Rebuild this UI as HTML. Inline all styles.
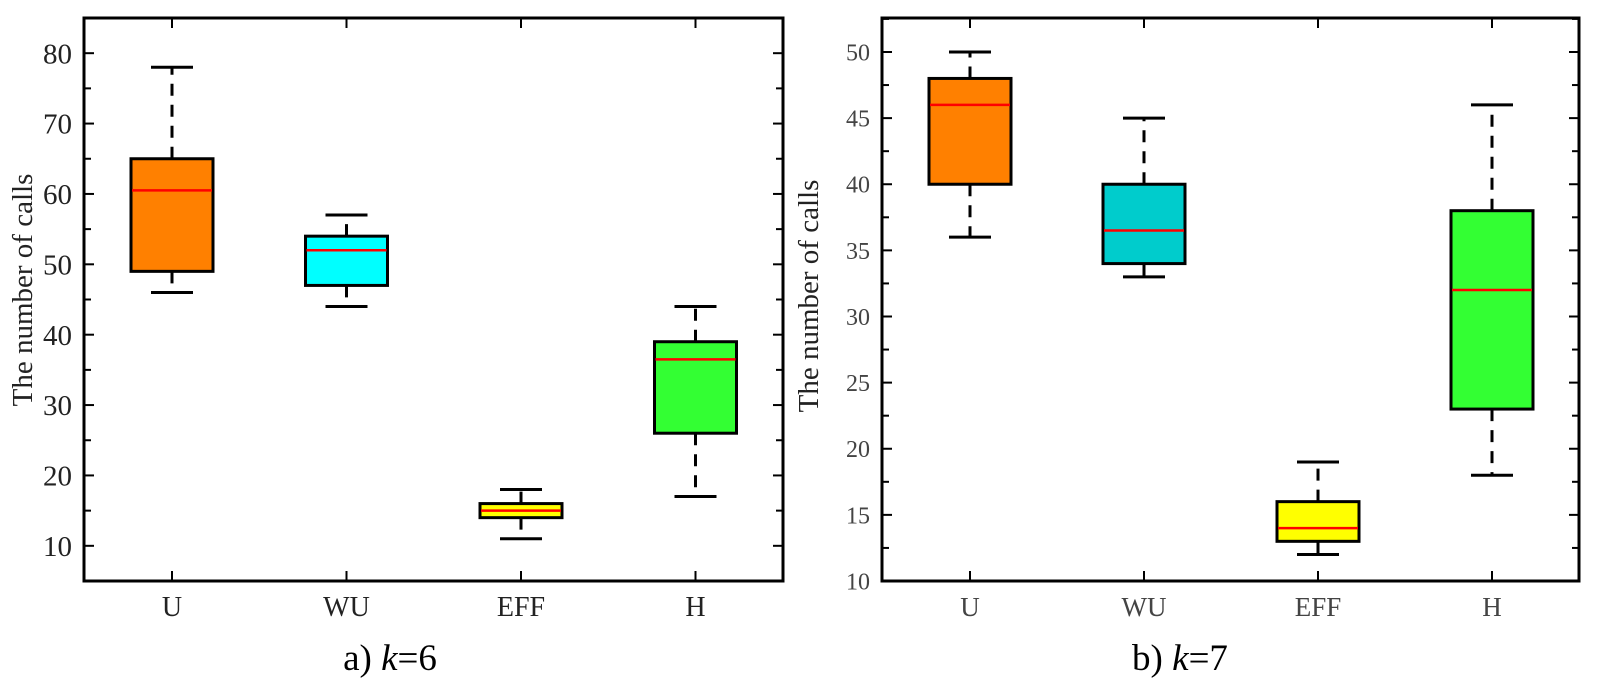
<!DOCTYPE html>
<html><head><meta charset="utf-8"><style>
html,body{margin:0;padding:0;background:#fff;}
svg{display:block;}
</style></head><body>
<svg id="fig" width="1600" height="687" viewBox="0 0 1600 687" xmlns="http://www.w3.org/2000/svg"></svg>
<script>
const categories = ["U","WU","EFF","H"];
// panel a (k=6)
const aWhiskLo = [46,44,11,17];
const aQ1 = [49,47,14,26];
const aMed = [60.5,52,15,36.5];
const aQ3 = [65,54,16,39];
const aWhiskHi = [78,57,18,44];
const aTicks = [10,20,30,40,50,60,70,80];
// panel b (k=7)
const bWhiskLo = [36,33,12,18];
const bQ1 = [40,34,13,23];
const bMed = [46,36.5,14,32];
const bQ3 = [48,40,16,38];
const bWhiskHi = [50,45,19,46];
const bTicks = [10,15,20,25,30,35,40,45,50];

const NS="http://www.w3.org/2000/svg";
const svg=document.getElementById('fig');
function el(tag,attrs,parent){const e=document.createElementNS(NS,tag);for(const k in attrs)e.setAttribute(k,attrs[k]);(parent||svg).appendChild(e);return e;}

function panel(cfg){
  const g=el('g',{});
  
  
  const L=cfg.x0,R=cfg.x1,T=cfg.y0,B=cfg.y1;
  const y=v=>B-(v-cfg.ymin)/(cfg.ymax-cfg.ymin)*(B-T);
  const xs=i=>L+cfg.xoff+i*cfg.step;
  for(const t of cfg.ticks){
    const yy=y(t);
    const a=el('line',{x1:L,x2:L+10,y1:yy,y2:yy,stroke:'#000','stroke-width':2},g);
    
    el('line',{x1:R,x2:R-10,y1:yy,y2:yy,stroke:'#000','stroke-width':2},g);
    const tx=el('text',{x:L-12,y:yy+cfg.fs*0.35,'text-anchor':'end','font-size':cfg.fs,'font-family':'"Liberation Serif",serif',fill:cfg.tickColor},g);
    tx.textContent=t;
    
  }
  for(let i=0;i<cfg.ticks.length-1;i++){
    const m=(cfg.ticks[i]+cfg.ticks[i+1])/2;
    el('line',{x1:L,x2:L+7,y1:y(m),y2:y(m),stroke:'#000','stroke-width':2},g);
    el('line',{x1:R,x2:R-7,y1:y(m),y2:y(m),stroke:'#000','stroke-width':2},g);
  }
  const extra=cfg.ticks[0]-(cfg.ticks[1]-cfg.ticks[0])/2;
  if(extra>cfg.ymin){el('line',{x1:L,x2:L+7,y1:y(extra),y2:y(extra),stroke:'#000','stroke-width':2},g);el('line',{x1:R,x2:R-7,y1:y(extra),y2:y(extra),stroke:'#000','stroke-width':2},g);}
  const lastT=cfg.ticks[cfg.ticks.length-1]+(cfg.ticks[1]-cfg.ticks[0])/2;
  if(lastT<cfg.ymax){el('line',{x1:L,x2:L+7,y1:y(lastT),y2:y(lastT),stroke:'#000','stroke-width':2},g);el('line',{x1:R,x2:R-7,y1:y(lastT),y2:y(lastT),stroke:'#000','stroke-width':2},g);}
  categories.forEach((c,i)=>{
    const x=xs(i);
    el('line',{x1:x,x2:x,y1:B,y2:B-10,stroke:'#000','stroke-width':2},g);
    el('line',{x1:x,x2:x,y1:T,y2:T+10,stroke:'#000','stroke-width':2},g);
    const tx=el('text',{x:x,y:B+35,'text-anchor':'middle','font-size':cfg.xfs,'font-family':'"Liberation Serif",serif',fill:cfg.tickColor},g);
    tx.textContent=c;
    
    const lo=cfg.lo[i],q1=cfg.q1[i],md=cfg.med[i],q3=cfg.q3[i],hi=cfg.hi[i];
    const wl=el('line',{x1:x,x2:x,y1:y(q3),y2:y(hi),stroke:'#000','stroke-width':3,'stroke-dasharray':'12 9'},g);
    
    const wl2=el('line',{x1:x,x2:x,y1:y(q1),y2:y(lo),stroke:'#000','stroke-width':3,'stroke-dasharray':'12 9'},g);
    
    el('line',{x1:x-21,x2:x+21,y1:y(hi),y2:y(hi),stroke:'#000','stroke-width':3},g);
    el('line',{x1:x-21,x2:x+21,y1:y(lo),y2:y(lo),stroke:'#000','stroke-width':3},g);
    const bx=el('rect',{x:x-41,y:y(q3),width:82,height:y(q1)-y(q3),fill:cfg.colors[i],stroke:'#000','stroke-width':3},g);
    
    const ml=el('line',{x1:x-40,x2:x+40,y1:y(md),y2:y(md),stroke:'#ff0000','stroke-width':2.5},g);
    
  });
  const fr=el('rect',{x:L,y:T,width:R-L,height:B-T,fill:'none',stroke:'#000','stroke-width':3},g);
  
  const yl=el('text',{x:0,y:0,transform:`translate(${cfg.labX},${cfg.labY}) rotate(-90)`,'text-anchor':'middle','font-size':29,'font-family':'"Liberation Serif",serif',fill:'#222'},g);
  yl.textContent='The number of calls';
  
  const cap=el('text',{x:cfg.capX,y:670,'text-anchor':'middle','font-size':37,'font-family':'"Liberation Serif",serif',fill:'#000'},g);
  cap.innerHTML=cfg.caption;
  
}
panel({name:'panel-a',x0:84,x1:783,y0:18,y1:581,ymin:5,ymax:85,xoff:88,step:174.5,ticks:aTicks,fs:29,xfs:28,tickColor:'#222',
  lo:aWhiskLo,q1:aQ1,med:aMed,q3:aQ3,hi:aWhiskHi,colors:['#ff8000','#00ffff','#ffff00','#33ff33'],labX:32,labY:290,capX:390,
  caption:'a) <tspan font-style="italic">k</tspan>=6'});
panel({name:'panel-b',x0:882,x1:1579,y0:18,y1:581,ymin:10,ymax:52.57,xoff:88,step:174,ticks:bTicks,fs:24,xfs:27,tickColor:'#444',
  lo:bWhiskLo,q1:bQ1,med:bMed,q3:bQ3,hi:bWhiskHi,colors:['#ff8000','#00cccc','#ffff00','#33ff33'],labX:818,labY:296,capX:1180,
  caption:'b) <tspan font-style="italic">k</tspan>=7'});
</script>
</body></html>
